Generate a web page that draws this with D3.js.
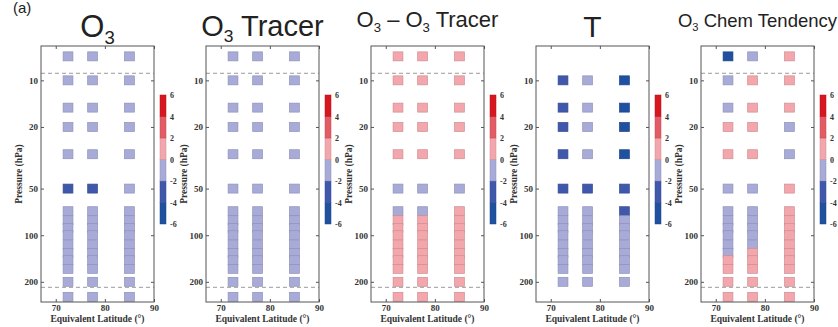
<!DOCTYPE html>
<html>
<head>
<meta charset="utf-8">
<script src="https://cdnjs.cloudflare.com/ajax/libs/d3/7.8.5/d3.min.js"></script>
<style>
   body { margin: 0; background: #fff; }
   svg { display: block; }
   .axisText text { font-family: "Liberation Serif", "Times New Roman", serif; font-weight: bold; font-size: 9px; fill: #333; }
   .axisText line { stroke: #555; }
   .axisLabel { font-family: "Liberation Serif", "Times New Roman", serif; font-weight: bold; font-size: 9.5px; fill: #333; }
   .panelTitle { font-family: "Liberation Sans", Arial, sans-serif; fill: #222; }
</style>
</head>
<body>
<svg id="chart" width="838" height="327"></svg>
<script>
// pressure levels (hPa) and equivalent latitude bins
var levels = [7, 10, 15, 20, 30, 50, 70, 80, 90, 100, 115, 130, 145, 165, 200, 250];
var latitudes = [72.5, 77.5, 85];
var panelTitles = ["O_3", "O_3 Tracer", "O_3 \u2013 O_3 Tracer", "T", "O_3 Chem Tendency"];
var pressureTicks = [10, 20, 50, 100, 200];
var latitudeTicks = [70, 80, 90];
var colorBreaks = [-6, -4, -2, 0, 2, 4, 6];
var classColors = ["#2050a0", "#3f58ab", "#a8abd8", "#f3a7ac", "#e35b64", "#d7161f"];
var dashedLevels = [9, 217];

// one row per level, one value per latitude bin (null = no data)
var o3Values = [
   [-1, -1, -1], [-1, -1, -1], [-1, -1, -1], [-1, -1, -1], [-1, -1, -1],
   [-3, -3, -1],
   [-1, -1, -1], [-1, -1, -1], [-1, -1, -1], [-1, -1, -1],
   [-1, -1, -1], [-1, -1, -1], [-1, -1, -1], [-1, -1, -1],
   [-1, -1, -1], [-1, -1, -1]
];
var tracerValues = [
   [-1, -1, -1], [-1, -1, -1], [-1, -1, -1], [-1, -1, -1], [-1, -1, -1],
   [-1, -1, -1],
   [-1, -1, -1], [-1, -1, -1], [-1, -1, -1], [-1, -1, -1],
   [-1, -1, -1], [-1, -1, -1], [-1, -1, -1], [-1, -1, -1],
   [-1, -1, -1], [-1, -1, -1]
];
var diffValues = [
   [1, 1, 1], [1, 1, 1], [1, 1, 1], [1, 1, 1], [1, 1, 1],
   [-1, -1, -1],
   [-1, -1, 1], [1, 1, 1], [1, 1, 1], [1, 1, 1],
   [1, 1, 1], [1, 1, 1], [1, 1, 1], [1, 1, 1],
   [1, 1, 1], [1, 1, 1]
];
var tempValues = [
   [null, null, null], [-3.5, -1, -5], [-3.5, -1, -5], [-3.5, -1, -5], [-3.5, -1, -5],
   [-3, -3, -3],
   [-1, -1, -3], [-1, -1, -1], [-1, -1, -1], [-1, -1, -1],
   [-1, -1, -1], [-1, -1, -1], [-1, -1, -1], [-1, -1, -1],
   [-1, -1, -1], [null, null, null]
];
var chemValues = [
   [-4.5, -1, 1], [-1, 1, 1], [-1, 1, 1], [1, 1, -1], [1, 1, -1],
   [-1, -1, 1],
   [-1, -1, 1], [-1, -1, 1], [-1, -1, 1], [-1, -1, 1],
   [-1, -1, 1], [-1, 1, 1], [1, 1, 1], [1, 1, 1],
   [1, 1, 1], [1, 1, 1]
];

var panelValues = [o3Values, tracerValues, diffValues, tempValues, chemValues];
var panelDashed = [true, true, true, false, true];
var titleSizes = [31, 29, 22, 30, 18.5];
var titleBaselines = [37, 36, 27, 37, 27];

var svg = d3.select("#chart");
var plotTop = 46, plotBottom = 302, plotWidth = 113, firstLeft = 41, panelStep = 165;
var squareHeight = 9;

var y = d3.scaleLog().domain([6, 270]).range([plotTop, plotBottom]);
var color = d3.scaleThreshold().domain(colorBreaks.slice(1, -1)).range(classColors);
var cbScale = d3.scaleLinear().domain([-6, 6]).range([224, 95]);
var plainNum = function (d) { return String(d); };

// panel letter, top left
svg.append("text")
   .attr("x", 13).attr("y", 13)
   .attr("class", "panelTitle")
   .style("font-size", "15px")
   .text("(a)");

function drawTitle(g, title, cx, size, baseline) {
   var t = g.append("text")
      .attr("class", "panelTitle")
      .attr("x", cx).attr("y", baseline)
      .attr("text-anchor", "middle")
      .style("font-size", size + "px");
   var parts = title.split("_3");
   parts.forEach(function (p, i) {
      if (i > 0) {
         t.append("tspan").attr("dy", size * 0.22).style("font-size", (size * 0.6) + "px").text("3");
         t.append("tspan").attr("dy", -size * 0.22).text(p);
      } else {
         t.append("tspan").text(p);
      }
   });
}

panelValues.forEach(function (values, pi) {
   var left = firstLeft + pi * panelStep;
   var right = left + plotWidth;
   var x = d3.scaleLinear().domain([67, 90]).range([left, right]);
   var g = svg.append("g");

   drawTitle(g, panelTitles[pi], (left + right) / 2, titleSizes[pi], titleBaselines[pi]);

   // cells
   var cells = [];
   values.forEach(function (row, li) {
      row.forEach(function (v, ci) {
         if (v !== null) cells.push({ p: levels[li], lat: latitudes[ci], v: v });
      });
   });
   g.selectAll("rect.cell")
      .data(cells)
      .enter()
      .append("rect")
      .attr("class", "cell")
      .attr("x", function (d) { return x(d.lat - 1); })
      .attr("y", function (d) { return y(d.p) - squareHeight / 2; })
      .attr("width", function (d) { return x(d.lat + 1) - x(d.lat - 1); })
      .attr("height", squareHeight)
      .attr("fill", function (d) { return color(d.v); })
      .attr("stroke", function (d) { return d3.color(color(d.v)).darker(0.45); })
      .attr("stroke-width", 0.7);

   // dashed reference levels
   if (panelDashed[pi]) {
      g.selectAll("line.dash")
         .data(dashedLevels)
         .enter()
         .append("line")
         .attr("x1", left).attr("x2", right)
         .attr("y1", function (d) { return y(d); })
         .attr("y2", function (d) { return y(d); })
         .attr("stroke", "#9a9a9a")
         .attr("stroke-width", 1)
         .attr("stroke-dasharray", "4,3");
   }

   // axes, ticks pointing inward
   g.append("g").attr("class", "axisText").attr("transform", "translate(" + left + ",0)")
      .call(d3.axisLeft(y).tickValues(pressureTicks).tickFormat(plainNum).tickSize(-3).tickPadding(3))
      .call(function (s) { s.select(".domain").remove(); });
   g.append("g").attr("class", "axisText").attr("transform", "translate(" + right + ",0)")
      .call(d3.axisRight(y).tickValues(pressureTicks).tickFormat("").tickSize(-3))
      .call(function (s) { s.select(".domain").remove(); });
   g.append("g").attr("class", "axisText").attr("transform", "translate(0," + plotBottom + ")")
      .call(d3.axisBottom(x).tickValues(latitudeTicks).tickFormat(plainNum).tickSize(-3).tickPadding(3))
      .call(function (s) { s.select(".domain").remove(); });
   g.append("g").attr("class", "axisText").attr("transform", "translate(0," + plotTop + ")")
      .call(d3.axisTop(x).tickValues(latitudeTicks).tickFormat("").tickSize(-3))
      .call(function (s) { s.select(".domain").remove(); });

   g.append("rect")
      .attr("x", left).attr("y", plotTop)
      .attr("width", plotWidth).attr("height", plotBottom - plotTop)
      .attr("fill", "none").attr("stroke", "#555").attr("stroke-width", 1);

   g.append("text")
      .attr("class", "axisLabel")
      .attr("transform", "translate(" + (left - 22) + "," + ((plotTop + plotBottom) / 2) + ") rotate(-90)")
      .attr("text-anchor", "middle")
      .attr("dy", "0.35em")
      .text("Pressure (hPa)");
   g.append("text")
      .attr("class", "axisLabel")
      .attr("x", (left + right) / 2).attr("y", 321.5)
      .attr("text-anchor", "middle")
      .text("Equivalent Latitude (\u00b0)");

   // colorbar
   var cbLeft = right + 6, cbWidth = 6;
   var classes = d3.range(colorBreaks.length - 1).map(function (i) {
      return { lo: colorBreaks[i], hi: colorBreaks[i + 1], c: classColors[i] };
   });
   g.selectAll("rect.cb")
      .data(classes)
      .enter()
      .append("rect")
      .attr("class", "cb")
      .attr("x", cbLeft)
      .attr("y", function (d) { return cbScale(d.hi); })
      .attr("width", cbWidth)
      .attr("height", function (d) { return cbScale(d.lo) - cbScale(d.hi); })
      .attr("fill", function (d) { return d.c; })
      .attr("stroke", function (d) { return d3.color(d.c).darker(0.5); })
      .attr("stroke-width", 0.5);
   g.append("g").attr("class", "axisText").attr("transform", "translate(" + (cbLeft + cbWidth) + ",0)")
      .call(d3.axisRight(cbScale).tickValues(colorBreaks).tickFormat(plainNum).tickSize(0).tickPadding(4))
      .call(function (s) { s.select(".domain").remove(); })
      .selectAll("text").style("font-size", "8px");
});
</script>
</body>
</html>
